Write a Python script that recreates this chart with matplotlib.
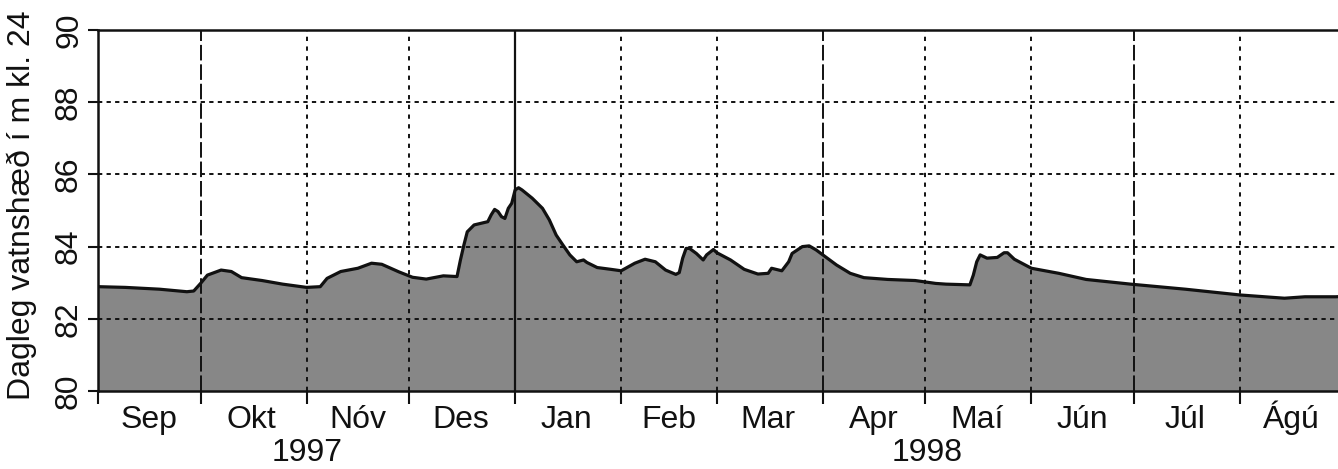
import matplotlib
matplotlib.use('Agg')
import matplotlib.pyplot as plt
import numpy as np

plt.rcParams['font.family'] = ['Liberation Sans', 'DejaVu Sans']

# ---- data ----
dates = [
    '1997-09-01', '1997-09-09', '1997-09-19', '1997-09-27', '1997-09-29',
    '1997-10-01', '1997-10-03', '1997-10-07', '1997-10-10', '1997-10-13',
    '1997-10-19', '1997-10-25', '1997-11-01', '1997-11-05', '1997-11-07',
    '1997-11-11', '1997-11-16', '1997-11-20', '1997-11-23', '1997-11-28',
    '1997-12-02', '1997-12-06', '1997-12-11', '1997-12-15', '1997-12-16',
    '1997-12-17', '1997-12-18', '1997-12-20', '1997-12-24', '1997-12-25',
    '1997-12-26', '1997-12-27', '1997-12-28', '1997-12-29', '1997-12-30',
    '1997-12-31', '1998-01-01', '1998-01-02', '1998-01-03', '1998-01-06',
    '1998-01-09', '1998-01-11', '1998-01-13', '1998-01-15', '1998-01-17',
    '1998-01-19', '1998-01-21', '1998-01-22', '1998-01-25', '1998-01-29',
    '1998-02-01', '1998-02-05', '1998-02-08', '1998-02-11', '1998-02-14',
    '1998-02-17', '1998-02-18', '1998-02-19', '1998-02-20', '1998-02-21',
    '1998-02-23', '1998-02-25', '1998-02-26', '1998-02-28', '1998-03-01',
    '1998-03-05', '1998-03-09', '1998-03-13', '1998-03-16', '1998-03-17',
    '1998-03-20', '1998-03-22', '1998-03-23', '1998-03-26', '1998-03-28',
    '1998-03-30', '1998-04-01', '1998-04-05', '1998-04-09', '1998-04-13',
    '1998-04-20', '1998-04-28', '1998-05-04', '1998-05-07', '1998-05-14',
    '1998-05-15', '1998-05-16', '1998-05-17', '1998-05-19', '1998-05-22',
    '1998-05-24', '1998-05-25', '1998-05-27', '1998-06-01', '1998-06-09',
    '1998-06-17', '1998-06-30', '1998-07-16', '1998-08-01', '1998-08-14',
    '1998-08-20', '1998-08-29', '1998-08-31',
]
levels = [
    82.89, 82.87, 82.82, 82.75, 82.77,
    82.98, 83.21, 83.35, 83.31, 83.14,
    83.06, 82.96, 82.87, 82.89, 83.12,
    83.31, 83.40, 83.54, 83.51, 83.30,
    83.15, 83.10, 83.19, 83.17, 83.63,
    84.04, 84.41, 84.60, 84.69, 84.88,
    85.03, 84.97, 84.83, 84.78, 85.06,
    85.20, 85.57, 85.63, 85.57, 85.34,
    85.06, 84.74, 84.32, 84.04, 83.77,
    83.58, 83.63, 83.56, 83.42, 83.37,
    83.33, 83.54, 83.65, 83.58, 83.35,
    83.23, 83.28, 83.68, 83.95, 83.95,
    83.81, 83.63, 83.77, 83.92, 83.83,
    83.63, 83.37, 83.24, 83.26, 83.40,
    83.33, 83.58, 83.81, 84.00, 84.02,
    83.91, 83.77, 83.49, 83.26, 83.14,
    83.09, 83.06, 82.98, 82.96, 82.94,
    83.21, 83.58, 83.77, 83.68, 83.70,
    83.83, 83.83, 83.65, 83.40, 83.26,
    83.09, 82.96, 82.82, 82.66, 82.57,
    82.61, 82.61, 82.62,
]
month_starts = ['1997-09-01', '1997-10-01', '1997-11-01', '1997-12-01',
                '1998-01-01', '1998-02-01', '1998-03-01', '1998-04-01',
                '1998-05-01', '1998-06-01', '1998-07-01', '1998-08-01',
                '1998-09-01']
month_labels = ['Sep', 'Okt', 'Nóv', 'Des', 'Jan', 'Feb', 'Mar', 'Apr',
                'Maí', 'Jún', 'Júl', 'Ágú']
year_labels = ['1997', '1998']
y_ticks = [80, 82, 84, 86, 88, 90]
y_label = 'Dagleg vatnshæð í m kl. 24'

FS = 23
INK = '#111111'

# ---- figure ----
W, H = 1338, 469
fig = plt.figure(figsize=(W / 100, H / 100), dpi=100)
ax = fig.add_axes([98 / W, 1 - 391 / H, (1346 - 98) / W, (391 - 30) / H])

d = np.array(dates, dtype='datetime64[D]')
ms = np.array(month_starts, dtype='datetime64[D]')
lv = np.array(levels)

ax.fill_between(d, lv, 80, color='#878787', lw=0, zorder=1)
ax.plot(d, lv, color=INK, lw=2.3, zorder=4, solid_joinstyle='round')

ax.set_xlim(ms[0], ms[-1])
ax.set_ylim(80, 90)

# horizontal dotted grid
for y in y_ticks[1:-1]:
    ax.axhline(y, color=INK, lw=1.4, ls=(0, (2.2, 2.2)), zorder=3)

# vertical month lines
styles = {4: '-', 1: (0, (8, 2)), 7: (0, (8, 2)), 10: (0, (8, 2))}
for i in range(1, 12):
    ls = styles.get(i, (0, (2.2, 2.8)))
    lw = 1.4 if ls != '-' else 1.6
    ax.axvline(ms[i], color=INK, lw=lw, ls=ls, zorder=3)

# spines
for s in ['left', 'bottom', 'top']:
    ax.spines[s].set_linewidth(1.8)
    ax.spines[s].set_color(INK)
ax.spines['right'].set_visible(False)

# y ticks
ax.set_yticks(y_ticks)
ax.set_yticklabels([str(v) for v in y_ticks], rotation=90, va='center',
                   fontsize=FS)
ax.tick_params(axis='y', direction='out', length=7, width=1.5, pad=3,
               colors=INK)

# x ticks: month boundaries as tick marks, month names centred in month
ax.set_xticks(ms[:-1])
ax.set_xticklabels([''] * 12)
ax.tick_params(axis='x', which='major', direction='out', length=9,
               width=1.5, colors=INK)
mids = ms[:-1] + (ms[1:] - ms[:-1]) // 2
trans = ax.get_xaxis_transform()
for m, lab in zip(mids, month_labels):
    ax.text(m, 1 - (428 - 30) / (391 - 30), lab, transform=trans,
            ha='center', va='baseline', fontsize=FS, color=INK)

# year labels
fig.text(307 / W, 1 - 468 / H, year_labels[0], ha='center', va='bottom',
         fontsize=FS, color=INK)
fig.text(927 / W, 1 - 468 / H, year_labels[1], ha='center', va='bottom',
         fontsize=FS, color=INK)

# y axis title
fig.text(22 / W, 1 - 205 / H, y_label, rotation=90, ha='center',
         va='center', fontsize=FS, color=INK)

fig.savefig('out.png', dpi=100)
